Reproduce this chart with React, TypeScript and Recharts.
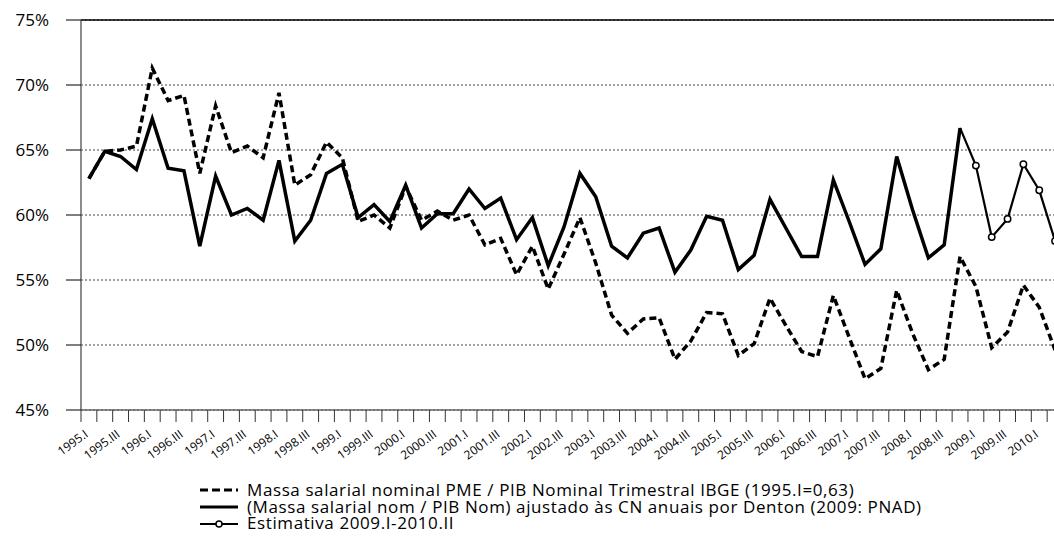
import { LineChart, Line, XAxis, YAxis, CartesianGrid, ReferenceLine } from 'recharts';

// quarters 1995.I .. 2010.II
const years = [1995, 1996, 1997, 1998, 1999, 2000, 2001, 2002, 2003, 2004, 2005, 2006, 2007, 2008, 2009, 2010];
const quarterNames = ['I', 'II', 'III', 'IV'];
const quarters: string[] = [];
years.forEach((y) => quarterNames.forEach((q) => quarters.push(`${y}.${q}`)));
quarters.length = 62;

// Massa salarial nominal PME / PIB Nominal Trimestral IBGE (dashed)
const pmeSeries = [
  62.8, 64.9, 65.0, 65.3, 71.3, 68.8, 69.2, 63.2, 68.4, 64.8,
  65.3, 64.4, 69.4, 62.3, 63.1, 65.6, 64.4, 59.5, 60.0, 59.0,
  62.2, 59.6, 60.3, 59.6, 60.0, 57.7, 58.2, 55.4, 57.6, 54.3,
  57.0, 59.8, 56.3, 52.3, 50.9, 52.0, 52.1, 48.9, 50.3, 52.5,
  52.4, 49.2, 50.1, 53.6, 51.5, 49.5, 49.1, 53.8, 50.6, 47.4,
  48.2, 54.2, 50.9, 48.1, 48.9, 56.8, 54.5, 49.8, 51.0, 54.6,
  52.9, 49.6,
];

// ajustado pelas CN anuais (Denton), 1995.I .. 2008.IV
const dentonSeries = [
  62.8, 64.9, 64.5, 63.5, 67.4, 63.6, 63.4, 57.6, 63.0, 60.0,
  60.5, 59.6, 64.2, 58.0, 59.6, 63.2, 63.9, 59.8, 60.8, 59.5,
  62.3, 59.0, 60.1, 60.1, 62.0, 60.5, 61.3, 58.1, 59.8, 56.1,
  59.1, 63.2, 61.4, 57.6, 56.7, 58.6, 59.0, 55.6, 57.3, 59.9,
  59.6, 55.8, 56.9, 61.2, 59.0, 56.8, 56.8, 62.7, 59.5, 56.2,
  57.4, 64.5, 60.4, 56.7, 57.7, 66.7,
];

// Estimativa 2009.I .. 2010.II
const estimateSeries = [63.8, 58.3, 59.7, 63.9, 61.9, 58.0];

const yTicks = [45, 50, 55, 60, 65, 70, 75];

const data = quarters.map((label, i) => {
  const est = i >= dentonSeries.length ? estimateSeries[i - dentonSeries.length] : i === dentonSeries.length - 1 ? dentonSeries[i] : undefined;
  return {
    label,
    pme: pmeSeries[i],
    denton: i < dentonSeries.length ? dentonSeries[i] : undefined,
    est,
  };
});

const FONT = "'Open Sans', 'DejaVu Sans', sans-serif";
const CHART_W = 1063;
const CHART_H = 538;
const Y_W = 81;
const BAND = (CHART_W - Y_W) / quarters.length;

function QuarterTick(props: any) {
  const { x, y, index, payload } = props;
  const left = x - BAND / 2;
  const right = x + BAND / 2;
  const showLabel = index % 2 === 0;
  const tx = x;
  const ty = y + 26;
  return (
    <g>
      <line x1={left} x2={left} y1={y} y2={y + 12} stroke="#333" strokeWidth={1} />
      {index === quarters.length - 1 && <line x1={right} x2={right} y1={y} y2={y + 12} stroke="#333" strokeWidth={1} />}
      {showLabel && (
        <text
          x={tx}
          y={ty}
          transform={`rotate(-36 ${tx} ${ty})`}
          textAnchor="end"
          fontSize={12}
          fontFamily={FONT}
          fill="#000"
        >
          {payload.value}
        </text>
      )}
    </g>
  );
}

function EstDot(props: any) {
  const { cx, cy, index } = props;
  if (index < dentonSeries.length || cx == null) return <g key={`d${index}`} />;
  return <circle key={`d${index}`} cx={cx} cy={cy} r={3.2} fill="#fff" stroke="#000" strokeWidth={1.5} />;
}

const legendItems = [
  { text: 'Massa salarial nominal PME / PIB Nominal Trimestral IBGE (1995.I=0,63)', kind: 'dash' },
  { text: '(Massa salarial nom / PIB Nom) ajustado às CN anuais por Denton (2009: PNAD)', kind: 'solid' },
  { text: 'Estimativa 2009.I-2010.II', kind: 'est' },
];

function LegendSample({ kind }: { kind: string }) {
  return (
    <svg width={40} height={12} style={{ display: 'block', flex: 'none' }}>
      {kind === 'dash' && <line x1={1} x2={39} y1={6} y2={6} stroke="#000" strokeWidth={3} strokeDasharray="8 4" />}
      {kind === 'solid' && <line x1={1} x2={39} y1={6} y2={6} stroke="#000" strokeWidth={3} />}
      {kind === 'est' && (
        <g>
          <line x1={1} x2={39} y1={6} y2={6} stroke="#000" strokeWidth={2} />
          <circle cx={20} cy={6} r={3} fill="#fff" stroke="#000" strokeWidth={1.5} />
        </g>
      )}
    </svg>
  );
}

export default function App() {
  return (
    <div style={{ position: 'fixed', left: 0, top: 0, width: 1054, height: 538, overflow: 'hidden', background: '#fff', fontFamily: FONT }}>
      <LineChart width={CHART_W} height={CHART_H} data={data} margin={{ top: 20, right: 0, bottom: 78, left: 0 }}>
        <CartesianGrid vertical={false} stroke="#444" strokeDasharray="2 2" />
        <XAxis
          dataKey="label"
          interval={0}
          tickSize={0}
          tickMargin={0}
          tickLine={false}
          padding={{ left: BAND / 2, right: BAND / 2 }}
          axisLine={{ stroke: '#666', strokeWidth: 1.5 }}
          tick={<QuarterTick />}
          height={50}
        />
        <YAxis
          domain={[45, 75]}
          ticks={yTicks}
          width={Y_W}
          tickSize={15}
          tickMargin={17}
          axisLine={{ stroke: '#666', strokeWidth: 1.5 }}
          tickLine={{ stroke: '#000' }}
          tickFormatter={(v: number) => `${v}%`}
          tick={{ fontSize: 17, fill: '#000', fontFamily: FONT }}
        />
        <ReferenceLine y={75} stroke="#000" strokeWidth={1.5} />
        <Line dataKey="pme" stroke="#000" strokeWidth={3.5} strokeDasharray="7 4" dot={false} isAnimationActive={false} />
        <Line dataKey="denton" stroke="#000" strokeWidth={3.5} dot={false} isAnimationActive={false} />
        <Line dataKey="est" stroke="#000" strokeWidth={2.2} dot={<EstDot />} isAnimationActive={false} />
      </LineChart>
      <div style={{ position: 'absolute', left: 199, top: 482, fontSize: 17, color: '#000' }}>
        {legendItems.map((it) => (
          <div key={it.kind} style={{ display: 'flex', alignItems: 'center', height: 16.7, overflow: 'visible' }}>
            <LegendSample kind={it.kind} />
            <span
              style={{
                display: 'block',
                marginLeft: 8,
                whiteSpace: 'nowrap',
                height: 16.7,
                lineHeight: '16.7px',
                letterSpacing: 0.6,
                overflow: 'visible',
              }}
            >
              {it.text}
            </span>
          </div>
        ))}
      </div>
    </div>
  );
}
